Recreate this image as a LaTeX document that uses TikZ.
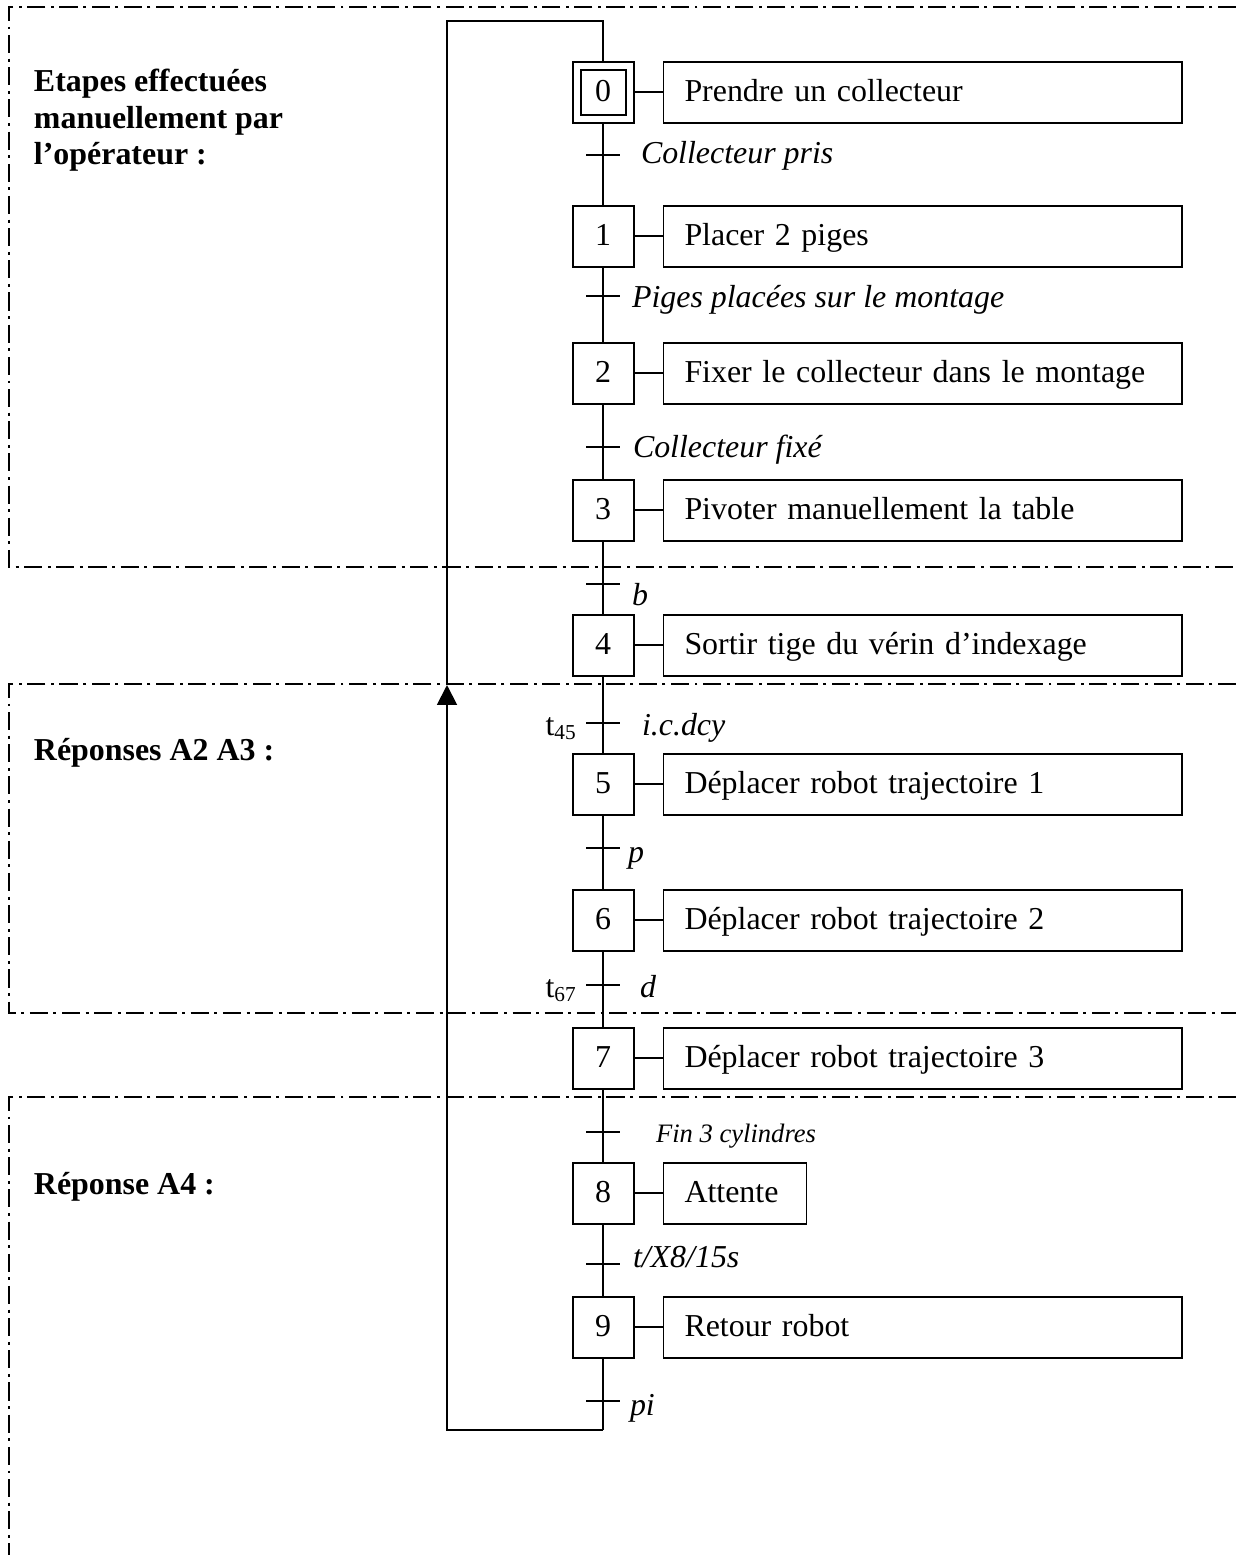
\documentclass[tikz,border=0pt]{standalone}
\usepackage{fontspec}
\setmainfont{Liberation Serif}
\usetikzlibrary{positioning,arrows.meta}

\newlength\px
\setlength\px{0.376pt}

\begin{document}
\begin{tikzpicture}[
        x=0.376pt, y=-0.376pt,
        line width=0.75pt,
        font=\fontsize{12}{13.8}\selectfont,
        stepbox/.style={
            rectangle,
            draw,
            minimum width=61\px,
            minimum height=61\px,
            text height=0.95em,
            text depth=0.25em,
            inner sep=0pt
        },
        actbox/.style={
            rectangle,
            draw,
            minimum height=61\px,
            text height=0.95em,
            text depth=0.25em,
            inner xsep=21\px,
            inner ysep=0pt,
            text width=476\px,
            align=left
        },
        recept/.style={anchor=base west, inner sep=0pt, font=\fontsize{12}{13.8}\selectfont\itshape},
        tempo/.style={anchor=base east, inner sep=0pt},
        title/.style={align=left, inner sep=0pt, font=\fontsize{12}{13.8}\selectfont\bfseries},
        zone/.style={dash pattern=on 6.8pt off 2.1pt on 1.1pt off 2.1pt},
        retour/.style={-{Triangle[length=7.5pt, width=7.5pt]}},
    ]

        \useasboundingbox (0,0) rectangle (1236,1555);

        \def\stepx{603}
        \def\loopx{447}

        % zones
        \draw[zone] (1236,7) -- (9,7) -- (9,567) -- (1236,567);
        \draw[zone] (1236,684) -- (9,684) -- (9,1013) -- (1236,1013);
        \draw[zone] (1236,1097) -- (9,1097) -- (9,1555);

        \node[title, anchor=north west] (z1) at (33,68)
            {Etapes effectuées\\manuellement par\\l'opérateur :};
        \node[title, anchor=base west] (z2) at (33,760) {Réponses A2 A3 :};
        \node[title, anchor=base west] (z3) at (33,1194) {Réponse A4 :};

        % steps
        \node[stepbox] (s0) at (\stepx,92) {};
        \node[stepbox, minimum width=45\px, minimum height=45\px] (s0i) at (s0) {0};
        \foreach \n/\y in {1/236, 2/373, 3/510, 4/645, 5/784, 6/920, 7/1058, 8/1193, 9/1327}{
            \node[stepbox] (s\n) at (\stepx,\y) {\n};
        }

        % actions
        \foreach \n/\txt in {
            0/Prendre un collecteur,
            1/Placer 2 piges,
            2/Fixer le collecteur dans le montage,
            3/Pivoter manuellement la table,
            4/Sortir tige du vérin d'indexage,
            5/Déplacer robot trajectoire 1,
            6/Déplacer robot trajectoire 2,
            7/Déplacer robot trajectoire 3,
            9/Retour robot
        }{
            \node[actbox, right=28\px of s\n] (a\n) {\txt};
            \draw (s\n) -- (a\n);
        }
        \node[actbox, text width=101\px, right=28\px of s8] (a8) {Attente};
        \draw (s8) -- (a8);

        % links and transitions
        \foreach \a/\b in {0/1, 1/2, 2/3, 3/4, 4/5, 5/6, 6/7, 7/8, 8/9}{
            \draw (s\a) -- (s\b);
        }
        \foreach \t/\y in {0/155, 1/296, 2/447, 3/584, 4/723, 5/848, 6/985, 7/1132, 8/1264, 9/1401}{
            \coordinate (t\t) at (\stepx,\y);
            \draw (t\t) ++(-17,0) -- ++(34,0);
        }

        \node[recept] (r0) at (640,163) {Collecteur pris};
        \node[recept] (r1) at (631,307) {Piges placées sur le montage};
        \node[recept] (r2) at (632,457) {Collecteur fixé};
        \node[recept] (r3) at (631,605) {b};
        \node[recept] (r4) at (641,735) {i.c.dcy};
        \node[tempo] (d4) at (578,735) {t\textsubscript{45}};
        \node[recept] (r5) at (627,862) {p};
        \node[recept] (r6) at (639,997) {d};
        \node[tempo] (d6) at (578,997) {t\textsubscript{67}};
        \node[recept, font=\fontsize{10}{12}\selectfont\itshape] (r7) at (655,1142) {Fin 3 cylindres};
        \node[recept] (r8) at (632,1267) {t/X8/15s};
        \node[recept] (r9) at (629,1415) {pi};

        % return to initial step
        \coordinate (back1) at (\stepx,1430);
        \coordinate (back2) at (\loopx,685);
        \coordinate (back3) at (\loopx,21);
        \draw (s9) -- (back1);
        \draw[retour] (back1) -| (back2);
        \draw (back2) -- (back3) -| (s0);

    \end{tikzpicture}
\end{document}
